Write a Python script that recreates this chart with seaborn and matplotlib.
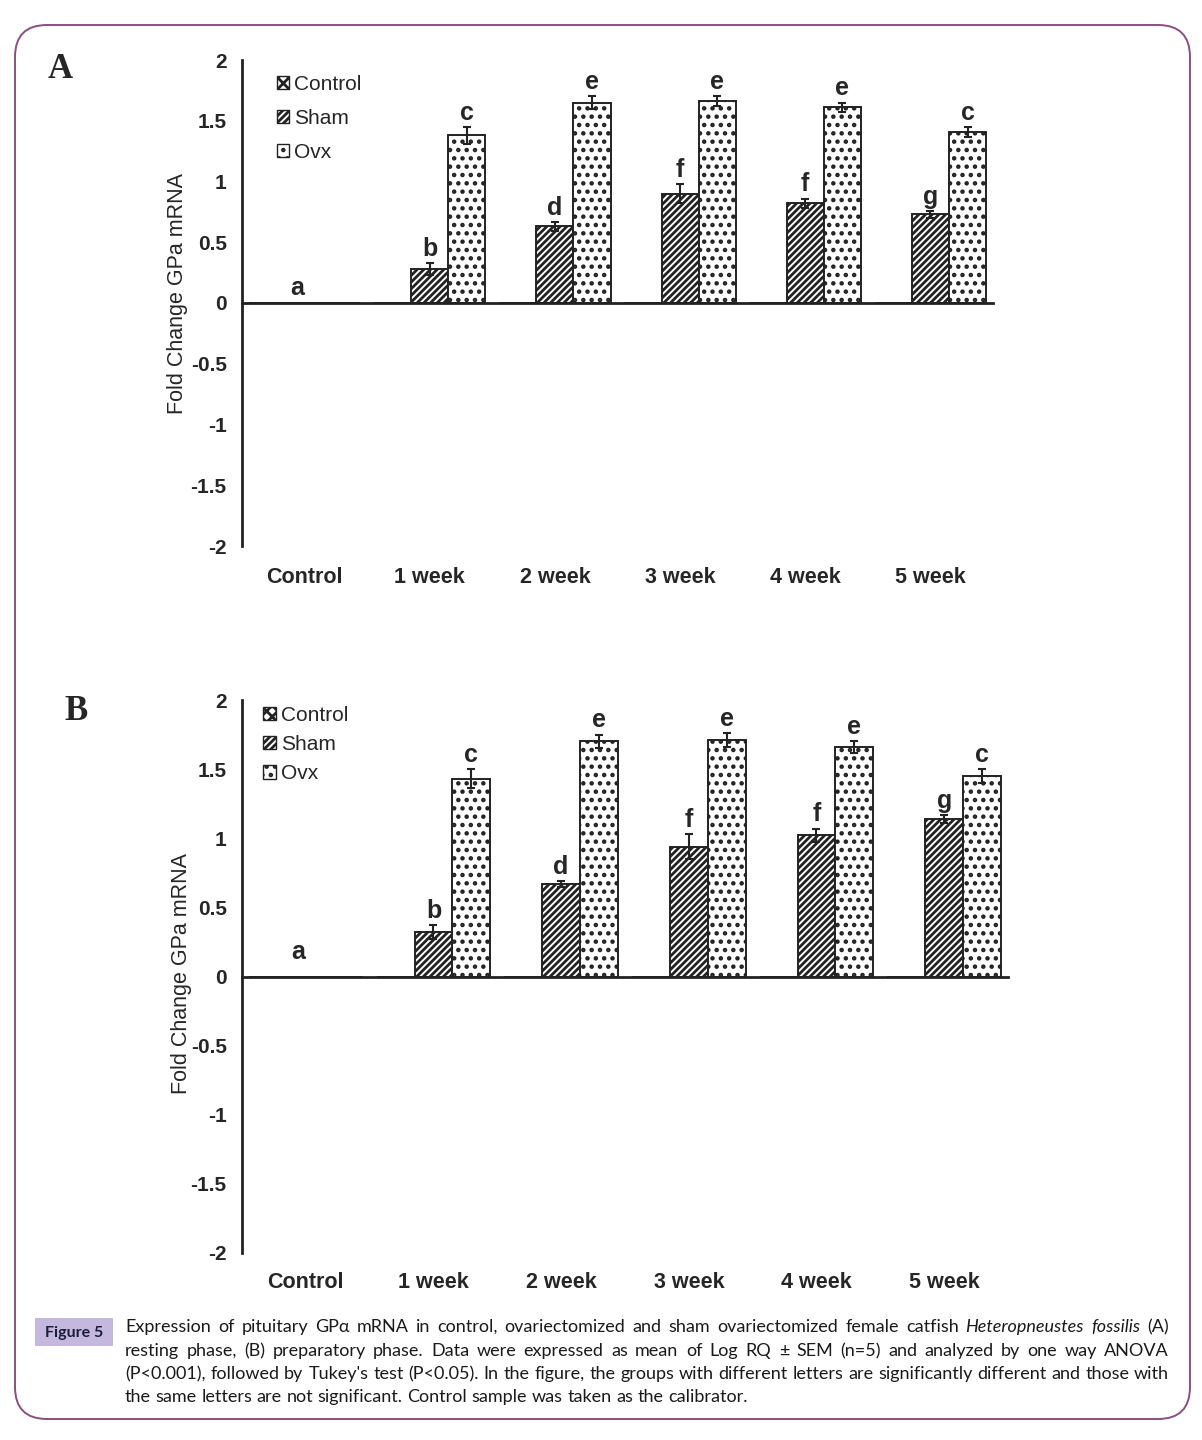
import numpy as np
import pandas as pd
import matplotlib
matplotlib.use("Agg")
import matplotlib.pyplot as plt
import matplotlib.patches as mpatches
import matplotlib.transforms as mtransforms
import seaborn as sns

# données
categories = ["Control", "1 week", "2 week", "3 week", "4 week", "5 week"]
groups = ["Control", "Sham", "Ovx"]

a_control = [0, 0, 0, 0, 0, 0]
a_sham = [0, 0.28, 0.63, 0.90, 0.82, 0.73]
a_sham_err = [0, 0.05, 0.04, 0.08, 0.04, 0.03]
a_ovx = [0, 1.38, 1.65, 1.66, 1.61, 1.41]
a_ovx_err = [0, 0.07, 0.05, 0.04, 0.04, 0.04]

b_control = [0, 0, 0, 0, 0, 0]
b_sham = [0, 0.32, 0.67, 0.94, 1.02, 1.14]
b_sham_err = [0, 0.05, 0.02, 0.09, 0.05, 0.03]
b_ovx = [0, 1.43, 1.70, 1.71, 1.66, 1.45]
b_ovx_err = [0, 0.07, 0.05, 0.05, 0.04, 0.05]

control_letter = "a"
sham_letters = ["", "b", "d", "f", "f", "g"]
ovx_letters = ["", "c", "e", "e", "e", "c"]

yticks = [-2, -1.5, -1, -0.5, 0, 0.5, 1, 1.5, 2]
ytick_labels = ["-2", "-1.5", "-1", "-0.5", "0", "0.5", "1", "1.5", "2"]

caption_lines = [
    "Expression of pituitary GPα mRNA in control, ovariectomized and sham ovariectomized female catfish *Heteropneustes fossilis* (A)",
    "resting phase, (B) preparatory phase.  Data were expressed as mean of Log RQ ± SEM (n=5) and analyzed by one way ANOVA",
    "(P<0.001), followed by Tukey's test (P<0.05). In the figure, the groups with different letters are significantly different and those with",
    "the same letters are not significant. Control sample was taken as the calibrator.",
]

sns.set_style("white")
plt.rcParams["font.family"] = ["Liberation Sans", "DejaVu Sans"]
plt.rcParams["hatch.linewidth"] = 2.0

W, H = 1202, 1440
fig = plt.figure(figsize=(W / 100, H / 100), dpi=100)

# axe de fond en pixels pour le cadre et la légende de la figure
bg = fig.add_axes([0, 0, 1, 1])
bg.set_xlim(0, W)
bg.set_ylim(H, 0)
bg.axis("off")

edge = "#222222"
hatches = {"Control": "xxx", "Sham": "/////", "Ovx": ".."}


def panel(rect, control, sham, sham_err, ovx, ovx_err, leg_anchor, leg_space, lab_y, a_off):
    ax = fig.add_axes(rect)
    df = pd.DataFrame({
        "week": categories * 3,
        "group": [g for g in groups for _ in categories],
        "value": control + sham + ovx,
    })
    sns.barplot(data=df, x="week", y="value", hue="group", order=categories,
                hue_order=groups, palette=["white"] * 3, width=0.89,
                errorbar=None, edgecolor=edge, linewidth=1.4, legend=False, ax=ax)

    for cont, g in zip(ax.containers, groups):
        for p in cont:
            p.set_hatch(hatches[g])
            p.set_edgecolor(edge)

    for cont, vals, errs, letters in [(ax.containers[1], sham, sham_err, sham_letters),
                                      (ax.containers[2], ovx, ovx_err, ovx_letters)]:
        xs = [p.get_x() + p.get_width() / 2 for p in cont]
        idx = [i for i in range(len(vals)) if errs[i] > 0]
        ax.errorbar([xs[i] for i in idx], [vals[i] for i in idx], yerr=[errs[i] for i in idx],
                    fmt="none", ecolor=edge, elinewidth=1.5, capsize=3, capthick=1.5, zorder=5)
        for i in idx:
            ax.annotate(letters[i], (xs[i], vals[i] + errs[i]), xytext=(0, 1.5),
                        textcoords="offset points", ha="center", va="bottom",
                        fontsize=18, fontweight="bold")
    ax.annotate(control_letter, (-0.06, 0), xytext=(0, a_off), textcoords="offset points",
                ha="center", va="bottom", fontsize=18, fontweight="bold")

    ax.set_xlim(-0.5, 5.5)
    ax.set_ylim(-2, 2)
    ax.set_yticks(yticks)
    ax.set_yticklabels(ytick_labels, fontsize=15, fontweight="bold")
    ax.set_xticks(np.arange(0.5, 6, 1))
    ax.set_xticklabels([""] * 6)
    ax.set_xlabel("")
    ax.set_ylabel("")
    ax.spines["bottom"].set_position(("data", 0))
    ax.spines["top"].set_visible(False)
    ax.spines["right"].set_visible(False)
    for s in ["left", "bottom"]:
        ax.spines[s].set_linewidth(2)
        ax.spines[s].set_color(edge)
    ax.tick_params(axis="both", direction="out", length=5, width=1.5, color=edge, pad=6)
    ax.patch.set_alpha(0)

    trans = mtransforms.blended_transform_factory(ax.transData, ax.transAxes)
    for i, c in enumerate(categories):
        ax.text(i, lab_y, c, transform=trans, ha="center", va="center",
                fontsize=15.5, fontweight="bold")

    handles = [mpatches.Patch(facecolor="white", edgecolor=edge, hatch=hatches[g]) for g in groups]
    ax.legend(handles, groups, loc="upper left", bbox_to_anchor=leg_anchor, frameon=False,
              fontsize=15, handlelength=0.6, handleheight=0.6, handletextpad=0.25,
              labelspacing=leg_space, borderpad=0, borderaxespad=0)
    return ax


panel([242 / W, 1 - 546 / H, 751 / W, 486 / H], a_control, a_sham, a_sham_err,
      a_ovx, a_ovx_err, (0.046, 0.969), 0.72, -0.064, 2.5)
panel([242 / W, 1 - 1253 / H, 766 / W, 553 / H], b_control, b_sham, b_sham_err,
      b_ovx, b_ovx_err, (0.028, 0.99), 0.5, -0.054, 9)

# titres d'axe et lettres de panneau
bg.text(178, 293, "Fold Change GPa mRNA", rotation=90, ha="center", va="center", fontsize=15.5)
bg.text(181, 973, "Fold Change GPa mRNA", rotation=90, ha="center", va="center", fontsize=15.5)
bg.text(60, 69, "A", ha="center", va="center", fontsize=25, fontweight="bold", family="Liberation Serif")
bg.text(76, 712, "B", ha="center", va="center", fontsize=25, fontweight="bold", family="Liberation Serif")

# cadre arrondi
frame = mpatches.FancyBboxPatch((15, 25), 1175, 1394, boxstyle="round,pad=0,rounding_size=32",
                                facecolor="none", edgecolor="#8A4F80", linewidth=1.4)
bg.add_patch(frame)

# légende de la figure
bg.add_patch(mpatches.Rectangle((35, 1318), 78, 28, facecolor="#C5B8DE", edgecolor="none"))
bg.text(74, 1333, "Figure 5", ha="center", va="center", fontsize=11.5, fontweight="bold",
        family=["Lato", "DejaVu Sans"], color="#1C1C3A")

renderer = fig.canvas.get_renderer()
cap_font = ["Lato", "DejaVu Sans"]
line_y = [1327, 1351, 1374, 1397]
x0, x1 = 125, 1169
for k, (line, y) in enumerate(zip(caption_lines, line_y)):
    words = []
    italic = False
    for w in line.split():
        if w.startswith("*"):
            italic = True
            w = w[1:]
        if w.endswith("*"):
            words.append((w[:-1], True))
            italic = False
            continue
        words.append((w, italic))
    texts = [bg.text(0, y, w, ha="left", va="center", fontsize=13, family=cap_font,
                     style="italic" if it else "normal", color="#1A1A1A") for w, it in words]
    widths = [t.get_window_extent(renderer).width for t in texts]
    if k < len(caption_lines) - 1:
        gap = (x1 - x0 - sum(widths)) / (len(texts) - 1)
    else:
        gap = 4.6
    x = x0
    for t, w in zip(texts, widths):
        t.set_x(x)
        x += w + gap

fig.savefig("out.png", dpi=100)
